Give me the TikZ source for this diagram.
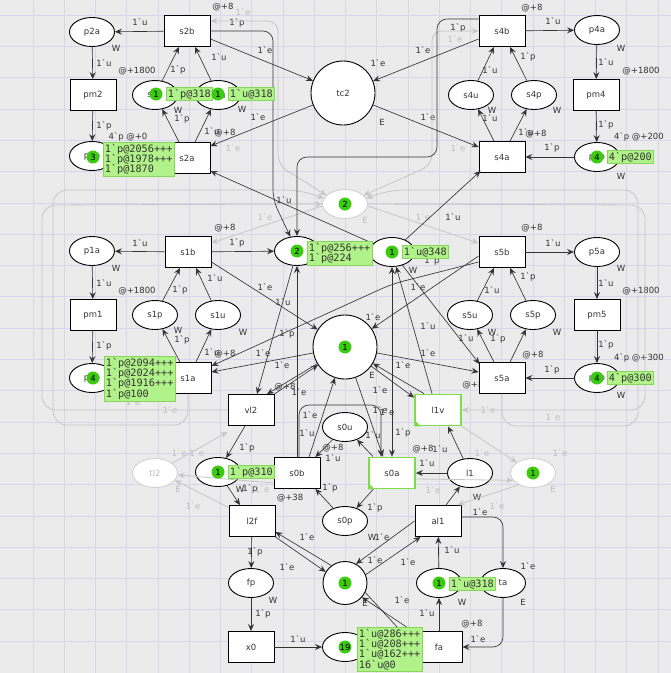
\documentclass[tikz,border=0pt]{standalone}
\usepackage{fontspec}
\newfontfamily\pnlabelfont{DejaVu Sans}
\newfontfamily\pntokfont{DejaVu Sans Mono}
\usetikzlibrary{shapes.geometric,arrows.meta}
\definecolor{bg}{HTML}{EBEBEB}
\definecolor{gridc}{HTML}{D6D6EE}
\definecolor{tokg}{HTML}{3CCB10}
\definecolor{boxg}{HTML}{B2F28A}
\definecolor{boxe}{HTML}{86D65A}
\definecolor{ink}{HTML}{333333}
\definecolor{fadeline}{HTML}{C6C6C6}
\definecolor{fadetext}{HTML}{BDBDBD}
\definecolor{selg}{HTML}{7FDC4A}
\newcommand\pnlf{\pnlabelfont\fontsize{8.5}{10}\selectfont}
\newcommand\pntf{\pntokfont\fontsize{10.2}{10.4}\selectfont}
\tikzset{
  pl/.style={ellipse,draw=black,line width=0.9pt,fill=white,minimum width=45pt,minimum height=29pt,inner sep=0pt,font=\pnlf,text=ink},
  tr/.style={rectangle,draw=black,line width=0.9pt,fill=white,minimum width=46pt,minimum height=31pt,inner sep=0pt,font=\pnlf,text=ink},
  big/.style={circle,draw=black,line width=0.9pt,fill=white,minimum size=64pt,inner sep=0pt,font=\pnlf,text=ink},
  fpl/.style={ellipse,draw=black!18,line width=0.9pt,fill=white,minimum width=45pt,minimum height=29pt,inner sep=0pt,font=\pnlf,text=fadetext},
  sel/.style={draw=selg,line width=1.8pt},
  tip/.style={-{Stealth[length=7pt,width=6pt,inset=2.5pt]}},
  arc/.style={draw=ink,line width=0.65pt,tip},
  farc/.style={draw=fadeline,line width=0.8pt,tip},
  lab/.style={font=\pnlf,text=ink,inner sep=0pt},
  flab/.style={font=\pnlf,text=fadetext,inner sep=0pt},
  tok/.style={circle,fill=tokg,minimum size=13pt,inner sep=0pt,font=\pnlf,text=black},
  tbox/.style={fill=boxg,draw=boxe,line width=0.6pt,font=\pntf,text=ink,align=left,inner sep=1.6pt,anchor=north west},
}
\begin{document}
\begin{tikzpicture}[x=1pt,y=-1pt]
\useasboundingbox (0,0) rectangle (671,673);
\fill[bg] (0,0) rectangle (671,673);
% background grid
\foreach \i in {0,...,20} {
  \draw[gridc,line width=0.6pt] (33+31.25*\i,0) -- (33+31.25*\i,673);
  \draw[gridc,line width=0.6pt] (0,15+31.3*\i) -- (671,15+31.3*\i);
}

% ---------- inscriptions (drawn first so nodes may cover them) ----------
\foreach \x/\y/\t in {
  140/22/1`u, 116/48/W, 104/63/1`u, 137/71/@+1800, 104/126/1`p, 128/137/4`p @+0,
  178/70/1`p, 219/57/1`u, 178/110/W, 182/119/1`p, 212/131/1`u, 225/133/@+8, 242/109/W,
  265/50/1`e, 258/117/1`e, 223/7/@+8, 237/23/1`p,
  532/8/@+8, 553/21/1`u, 621/48/W, 606/62/1`u, 641/71/@+1800, 606/125/1`p, 639/137/4`p @+200,
  621/176/W, 552/148/1`p, 490/70/1`u, 528/57/1`p, 492/110/W, 490/118/1`u, 526/132/1`u, 536/134/@+8,
  557/110/W, 423/50/1`e, 378/63/1`e, 428/117/1`e, 458/28/1`p, 382/122/E,
  225/228/@+8, 140/243/1`u, 237/243/1`p, 116/268/W, 104/283/1`u, 137/291/@+1800, 180/290/1`p,
  215/278/1`u, 265/287/1`e, 283/302/1`u, 287/334/1`p, 263/353/1`e, 282/365/1`e, 178/330/W,
  182/340/1`p, 212/352/1`u, 225/354/@+8, 243/332/W, 104/346/1`p, 285/387/@+8, 299/392/1`e, 284/200/1`u,
  532/228/@+8, 553/243/1`u, 621/268/W, 606/283/1`u, 641/291/@+1800, 606/345/1`p, 639/358/4`p @+300,
  621/395/W, 552/370/1`p, 492/290/1`u, 528/277/1`p, 492/332/W, 466/338/1`u, 498/339/1`p, 557/332/W,
  533/355/@+8, 473/385/@+8, 453/217/1`u, 432/261/1`p, 413/270/W, 418/287/1`e, 373/317/1`e,
  428/326/1`u, 428/353/1`e, 403/365/1`e, 380/390/1`e, 380/410/1`e, 372/375/E,
  307/433/1`u, 333/448/@+8, 333/458/1`u, 373/435/1`u, 403/433/1`p, 423/449/@+8, 440/449/1`u,
  427/463/1`u, 330/488/1`p, 290/498/@+38, 375/508/1`p, 372/537/W, 382/537/1`e, 307/537/1`e,
  255/552/1`p, 287/567/1`e, 375/560/1`e, 408/562/1`e, 452/550/1`u, 247/448/1`p, 240/489/W, 250/489/1`p,
  477/497/W, 480/512/1`e, 528/566/1`e, 402/600/1`e, 462/602/W, 523/602/E, 427/613/1`u,
  472/624/@+8, 478/639/1`e, 365/603/E, 273/600/W, 263/614/1`p, 298/639/1`u, 310/415/1`e, 387/412/1`e}
  \node[lab] at (\x,\y) {\t};
\foreach \x/\y/\t in {
  243/12/1`e, 233/148/1`e, 455/39/1`e, 458/148/1`e, 265/217/1`e, 423/217/1`e, 365/220/E,
  133/402/1`e, 170/410/1`e, 488/410/1`e, 553/417/1`e, 188/453/1`e 1`e, 193/506/1`e, 262/489/1`e,
  178/489/E, 482/453/1`e, 560/453/1`e, 433/490/1`e, 497/506/1`e, 553/489/E}
  \node[flab] at (\x,\y) {\t};

% ---------- places and transitions ----------
\node[pl] (p2a) at (92,32) {p2a};
\node[tr] (s2b) at (187,31) {s2b};
\node[tr] (pm2) at (93,95) {pm2};
\node[pl] (p2b) at (92,156) {p2b};
\node[tr] (s2a) at (187,158) {s2a};
\node[pl] (s2p) at (155,95) {s2p};
\node[pl] (s2u) at (218,95) {s2u};
\node[big] (tc2) at (343,93) {tc2};

\node[tr] (s4b) at (502,31) {s4b};
\node[pl] (p4a) at (597,30) {p4a};
\node[tr] (pm4) at (596,95) {pm4};
\node[pl] (p4b) at (597,157) {p4b};
\node[tr] (s4a) at (502,157) {s4a};
\node[pl] (s4u) at (471,95) {s4u};
\node[pl] (s4p) at (534,95) {s4p};

\node[pl] (p1a) at (92,251) {p1a};
\node[tr] (s1b) at (188,252) {s1b};
\node[tr] (pm1) at (93,315) {pm1};
\node[pl] (p1b) at (92,378) {p1b};
\node[tr] (s1a) at (188,378) {s1a};
\node[pl] (s1p) at (155,315) {s1p};
\node[pl] (s1u) at (218,315) {s1u};

\node[tr] (s5b) at (502,252) {s5b};
\node[pl] (p5a) at (597,252) {p5a};
\node[tr] (pm5) at (597,315) {pm5};
\node[pl] (s5u) at (470,315) {s5u};
\node[pl] (s5p) at (533,315) {s5p};
\node[tr] (s5a) at (502,378) {s5a};
\node[pl] (p5b) at (597,378) {p5b};

\node[pl] (pp) at (297,251) {};
\node[pl] (uu) at (392,252) {};
\node[fpl] (gp) at (345,204) {};
\node[big] (cc) at (345,347) {};
\node[tr] (vl2) at (251,410) {vl2};
\node[tr,sel] (l1v) at (438,410) {l1v};
\node[pl] (s0u) at (345,427) {s0u};
\node[tr] (s0b) at (297,473) {s0b};
\node[tr,sel] (s0a) at (392,473) {s0a};
\node[pl] (s0p) at (345,521) {s0p};
\node[tr] (l2f) at (252,521) {l2f};
\node[tr] (al1) at (438,521) {al1};
\node[pl] (l1) at (470,473) {l1};
\node[fpl] (gr) at (533,473) {};
\node[fpl] (tl2) at (155,473) {tl2};
\node[pl] (lp) at (218,472) {};
\node[pl] (fp) at (251,583) {fp};
\node[tr] (x0) at (251,647) {x0};
\node[pl,minimum width=44pt,minimum height=43pt] (aa) at (345,583) {ala};
\node[pl] (n19) at (345,647) {};
\node[pl] (au) at (439,583) {};
\node[pl] (ta) at (503,583) {ta};
\node[tr] (fa) at (439,647) {fa};
% enabled-transition corner marks
\fill[selg] (l1v.south west) -- ++(7,0) -- ++(-7,-7) -- cycle;
\fill[selg] (s0a.south west) -- ++(7,0) -- ++(-7,-7) -- cycle;

% ---------- faded arcs ----------
\draw[farc,{Stealth[length=7pt,width=6pt,inset=2.5pt]}-{Stealth[length=7pt,width=6pt,inset=2.5pt]},rounded corners=10pt]
  ([yshift=10pt]s2b.east) -- (278,21) -- (278,165) -- (gp.155);
\draw[farc,{Stealth[length=7pt,width=6pt,inset=2.5pt]}-{Stealth[length=7pt,width=6pt,inset=2.5pt]},rounded corners=10pt]
  (s4b.west) -- (432,31) -- (432,165) -- (gp.25);
\draw[farc] (gp.185) -- ([yshift=9pt]s1b.east);
\draw[farc] (gp.-5) -- ([yshift=9pt]s5b.west);
\draw[farc,rounded corners=14pt] (s1a.south) -- (188,425) -- (53,425) -- (53,190) -- (300,190) -- (gp.165);
\draw[farc,rounded corners=14pt] (vl2.west) -- (42,410) -- (42,205) -- (gp.180);
\draw[farc,rounded corners=14pt] (s5a.south) -- (502,426) -- (638,426) -- (638,190) -- (390,190) -- (gp.15);
\draw[farc,rounded corners=14pt] (gp.0) -- (645,205) -- (645,410) -- (l1v.east);
\draw[farc] (tl2) -- ([yshift=-6pt]vl2.south west);
\draw[farc] ([yshift=-10pt]s0b.west) -- (tl2);
\draw[farc] (l2f.150) -- (tl2.-20);
\draw[farc] (l1v.south east) -- (gr);
\draw[farc] ([yshift=-6pt]s0a.east) -- (gr.200);
\draw[farc] (gr.220) -- ([xshift=-4pt]al1.north east);

% ---------- arcs: station 2 ----------
\draw[arc] (s2b) -- (p2a);
\draw[arc] (p2a) -- (pm2);
\draw[arc] (pm2) -- (p2b);
\draw[arc] (p2b) -- (s2a);
\draw[arc] (s2p) -- ([xshift=-8pt]s2b.south);
\draw[arc] (s2u) -- ([xshift=8pt]s2b.south);
\draw[arc] ([xshift=-8pt]s2a.north) -- (s2p);
\draw[arc] ([xshift=8pt]s2a.north) -- (s2u);
\draw[arc] ([yshift=-8pt]s2b.east) -- (tc2);
\draw[arc] (tc2) -- ([yshift=12pt]s2a.east);
\draw[arc] (uu) -- ([yshift=-13pt]s2a.east);
\draw[arc,rounded corners=10pt] (s2b.east) -- (273,31) -- (273,200) -- (pp.115);
% ---------- arcs: station 4 ----------
\draw[arc] (s4b) -- (p4a);
\draw[arc] (p4a) -- (pm4);
\draw[arc] (pm4) -- (p4b);
\draw[arc] (p4b) -- (s4a);
\draw[arc] (s4u) -- ([xshift=-8pt]s4b.south);
\draw[arc] (s4p) -- ([xshift=8pt]s4b.south);
\draw[arc] ([xshift=-8pt]s4a.north) -- (s4u);
\draw[arc] ([xshift=8pt]s4a.north) -- (s4p);
\draw[arc] ([yshift=-8pt]s4b.west) -- (tc2);
\draw[arc] (tc2) -- ([yshift=10pt]s4a.west);
\draw[arc] (uu) -- ([xshift=2pt,yshift=2pt]s4a.south west);
\draw[arc,rounded corners=10pt] ([yshift=12pt]s4b.west) -- (437,19) -- (437,157) -- (297,157) -- (pp.north);
% ---------- arcs: station 1 ----------
\draw[arc] (s1b) -- (p1a);
\draw[arc] (p1a) -- (pm1);
\draw[arc] (pm1) -- (p1b);
\draw[arc] (p1b) -- (s1a);
\draw[arc] (s1p) -- ([xshift=-8pt]s1b.south);
\draw[arc] (s1u) -- ([xshift=8pt]s1b.south);
\draw[arc] ([xshift=-8pt]s1a.north) -- (s1p);
\draw[arc] ([xshift=8pt]s1a.north) -- (s1u);
\draw[arc] (s1b) -- (pp);
\draw[arc] ([yshift=-10pt]s1b.east) -- (cc);
\draw[arc] (cc) -- ([yshift=6pt]s1a.east);
% ---------- arcs: station 5 ----------
\draw[arc] (s5b) -- (p5a);
\draw[arc] (p5a) -- (pm5);
\draw[arc] (pm5) -- (p5b);
\draw[arc] (p5b) -- (s5a);
\draw[arc] (s5u) -- ([xshift=-8pt]s5b.south);
\draw[arc] (s5p) -- ([xshift=8pt]s5b.south);
\draw[arc] ([xshift=-8pt]s5a.north) -- (s5u);
\draw[arc] ([xshift=8pt]s5a.north) -- (s5p);
\draw[arc] ([yshift=-4pt]s5b.west) -- (cc);
\draw[arc] (cc) -- ([yshift=6pt]s5a.west);
\draw[arc] (uu) -- ([xshift=1pt,yshift=-2pt]s5a.north west);
\draw[arc,rounded corners=12pt] ([yshift=-10pt]s5b.west) -- (392,284) -- ([yshift=12pt]s1a.east);
% ---------- arcs: centre ----------
\draw[arc] (pp) -- ([xshift=6pt]vl2.north);
\draw[arc] (cc) -- ([xshift=16pt]vl2.north);
\draw[arc] (vl2.north east) -- (cc);
\draw[arc] (cc) -- ([yshift=-4pt]l1v.north west);
\draw[arc] ([xshift=-14pt]l1v.north) -- (cc);
\draw[arc] ([xshift=-6pt]l1v.north) -- (uu);
\draw[arc,{Stealth[length=7pt,width=6pt,inset=2.5pt]}-{Stealth[length=7pt,width=6pt,inset=2.5pt]}] (s0a.north) -- (uu.south);
\draw[arc] (cc) -- ([xshift=-9pt]s0a.north);
\draw[arc] ([xshift=12pt]s0b.north) -- (cc);
\draw[arc] (s0b.north) -- (pp.south);
\draw[arc,rounded corners=10pt] ([xshift=2pt]s0b.north) -- (299,405) -- (381,405) -- ([xshift=-11pt]s0a.north);
% ---------- arcs: lower part ----------
\draw[arc] ([xshift=-6pt]vl2.south) -- (lp);
\draw[arc] (lp) -- ([xshift=-12pt]l2f.north);
\draw[arc] (s0b) -- (lp);
\draw[arc] (s0u) -- ([xshift=-5pt]s0b.north east);
\draw[arc] ([xshift=5pt]s0a.north west) -- (s0u);
\draw[arc] (s0p) -- ([xshift=-5pt]s0b.south east);
\draw[arc] ([xshift=5pt]s0a.south west) -- (s0p);
\draw[arc] (l1) -- (s0a);
\draw[arc] (l1) -- ([xshift=10pt]l1v.south);
\draw[arc] ([xshift=8pt]al1.north) -- (l1);
\draw[arc,rounded corners=10pt] ([yshift=4pt]al1.east) -- (503,517) -- (ta.north);
\draw[arc,rounded corners=10pt] (ta.south) -- (503,647) -- (fa.east);
\draw[arc] (fa) -- (au);
\draw[arc] (au) -- (al1);
\draw[arc] (l2f) -- (fp);
\draw[arc] (fp) -- (x0);
\draw[arc] (x0) -- (n19);
\draw[arc] (l2f.south east) -- (aa.150);
\draw[arc] (aa.128) -- ([yshift=-11pt]l2f.east);
\draw[arc] (al1.west) -- (aa.60);
\draw[arc] (aa.22) -- ([xshift=6pt]al1.south west);
\draw[arc] ([yshift=-2pt]fa.north west) -- (aa.-40);
\draw[arc] (aa.-25) -- (fa.west);

% ---------- markings ----------
\node[tok] (k1) at (93,157) {3};
\node[tbox] (b1) at (103,142) {1`p@2056+++\\1`p@1978+++\\1`p@1870};
\node[tok] (k2) at (156,94) {1};
\node[tbox] (b2) at (166,87) {1`p@318};
\node[tok] (k3) at (218,94) {1};
\node[tbox] (b3) at (228,87) {1`u@318};
\node[tok] (k4) at (597,157) {4};
\node[tbox] (b4) at (607,150) {4`p@200};
\node[tok] (k5) at (93,378) {4};
\node[tbox] (b5) at (104,356) {1`p@2094+++\\1`p@2024+++\\1`p@1916+++\\1`p@100};
\node[tok] (k6) at (297,251) {2};
\node[tbox] (b6) at (307,241) {1`p@256+++\\1`p@224};
\node[tok] (k7) at (392,252) {1};
\node[tbox] (b7) at (402,245) {1`u@348};
\node[tok] (k8) at (345,204) {2};
\node[tok] (k9) at (345,347) {1};
\node[tok] (k10) at (597,378) {4};
\node[tbox] (b10) at (607,371) {4`p@300};
\node[tok] (k11) at (218,472) {1};
\node[tbox] (b11) at (228,465) {1`p@310};
\node[tok] (k12) at (533,473) {1};
\node[tok] (k13) at (345,583) {1};
\node[tok] (k14) at (345,647) {19};
\node[tbox] (b14) at (357,627) {1`u@286+++\\1`u@208+++\\1`u@162+++\\16`u@0};
\node[tok] (k15) at (439,583) {1};
\node[tbox] (b15) at (449,577) {1`u@318};
\end{tikzpicture}
\end{document}
